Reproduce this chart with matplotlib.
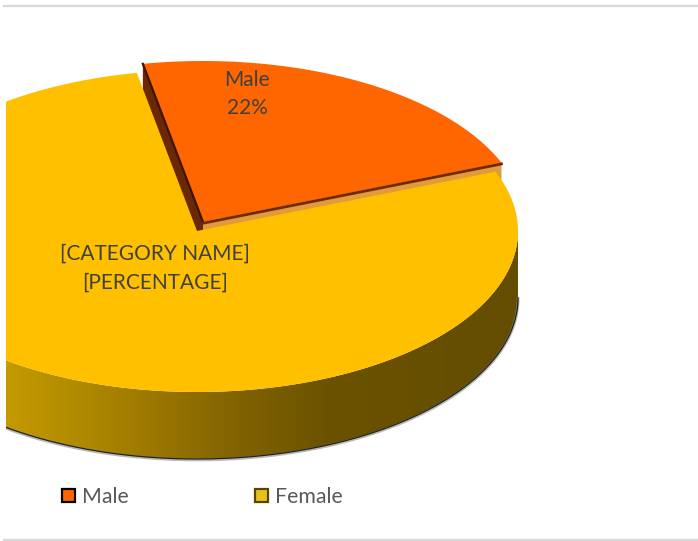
import numpy as np
import matplotlib
matplotlib.use("Agg")
import matplotlib.pyplot as plt
from matplotlib.patches import Polygon, Rectangle
from matplotlib.lines import Line2D

# ---- data -------------------------------------------------------------
categories = ["Male", "Female"]
values = [22, 78]
top_colors = ["#FF6600", "#FFC000"]
data_labels = [f"{categories[0]}\n{values[0]}%", "[CATEGORY NAME]\n[PERCENTAGE]"]

# ---- geometry of the 3-D pie (pixel space) ------------------------------
W, H = 698, 541
CX, CY = 197, 231          # centre of the top face
A, B = 321, 161            # semi-axes of the top ellipse
DEPTH = 67                 # wall thickness
START = -10.8              # first slice edge, degrees clockwise from 12 o'clock
EXPLODE = [(6, -9), (0, 0)]
LEFT = 6                   # plot area is cut here
FONT = ["Lato", "DejaVu Sans"]

fig = plt.figure(figsize=(W / 100, H / 100), dpi=100)
ax = fig.add_axes([0, 0, 1, 1])

clip = Rectangle((LEFT, 0), W - LEFT, H, transform=ax.transData)


def rim(cx, cy, t0, t1, n=240):
    t = np.radians(np.linspace(t0, t1, n))
    return np.column_stack([cx + A * np.sin(t), cy - B * np.cos(t)])


def pt(cx, cy, t):
    r = np.radians(t)
    return np.array([cx + A * np.sin(r), cy - B * np.cos(r)])


def add_patch(p):
    ax.add_patch(p)
    p.set_clip_path(clip)
    return p


def add_line(xs, ys, **kw):
    ln = Line2D(xs, ys, **kw)
    ax.add_line(ln)
    ln.set_clip_path(clip)
    return ln


spans = [360.0 * v / sum(values) for v in values]
edges = [START]
for s in spans:
    edges.append(edges[-1] + s)

down = np.array([0, DEPTH])

# ---- Male slice (exploded) ---------------------------------------------
mx, my = CX + EXPLODE[0][0], CY + EXPLODE[0][1]
apex = np.array([mx, my])
p0 = pt(mx, my, edges[0])
p1 = pt(mx, my, edges[1])

# radial side faces
add_patch(Polygon([apex, p0, p0 + down, apex + down], closed=True,
                  facecolor="#6a2805", edgecolor="none", zorder=1))
add_patch(Polygon([apex, p1, p1 + down, apex + down], closed=True,
                  facecolor="#e39a3a", edgecolor="none", zorder=1))

top_m = np.vstack([apex, rim(mx, my, edges[0], edges[1])])
add_patch(Polygon(top_m, closed=True, facecolor=top_colors[0], edgecolor="none", zorder=2))
add_line([apex[0], p0[0]], [apex[1], p0[1]], color="#3d1500", lw=1.6, zorder=2.5)
add_line([apex[0], p1[0]], [apex[1] + 1.2, p1[1] + 1.2], color="#6e2a00", lw=2.0, zorder=2.5)

# ---- Female slice ------------------------------------------------------
fx, fy = CX + EXPLODE[1][0], CY + EXPLODE[1][1]
wall_top = rim(fx, fy, 90, 270, 400)
wall_bot = wall_top + down
wall_poly = Polygon(np.vstack([wall_top, wall_bot[::-1]]), closed=True,
                    facecolor="none", edgecolor="none", transform=ax.transData)

# horizontal shading of the outer wall
stops_x = [0, 100, 170, 240, 330, 520]
stops_c = np.array([(198, 156, 0), (170, 133, 0), (150, 115, 0),
                    (128, 98, 0), (107, 82, 0), (100, 77, 0)]) / 255.0
gx = np.arange(LEFT, fx + A + 2, 1.0)
grad = np.stack([np.interp(gx, stops_x, stops_c[:, k]) for k in range(3)], axis=-1)[None, :, :]
y_lo, y_hi = wall_top[:, 1].min() - 2, wall_bot[:, 1].max() + 2
im = ax.imshow(grad, extent=(gx[0], gx[-1], y_hi, y_lo), aspect="auto",
               interpolation="bilinear", zorder=3)
im.set_clip_path(wall_poly)

add_line(wall_bot[:, 0], wall_bot[:, 1] + 0.8, color="#8a8a8a", lw=2.2, alpha=0.6, zorder=3.4)
add_line(wall_bot[:, 0], wall_bot[:, 1], color="#222222", lw=0.9, zorder=3.5)

top_f = np.vstack([[fx, fy], rim(fx, fy, edges[1], edges[2])])
add_patch(Polygon(top_f, closed=True, facecolor=top_colors[1], edgecolor="none", zorder=4))

# ---- data labels -------------------------------------------------------
label_pos = [(247, [86, 114]), (155, [260, 289])]
for text, (lx, ys) in zip(data_labels, label_pos):
    for line, ly in zip(text.split("\n"), ys):
        ax.text(lx, ly, line, ha="center", va="baseline", fontsize=15,
                color="#404040", family=FONT, zorder=6)

# ---- legend ------------------------------------------------------------
legend_x = [61, 254]
legend_edge = ["#000000", "#5a4500"]
legend_face = ["#FF6600", "#E6C21E"]
for name, x0, fc, ec in zip(categories, legend_x, legend_face, legend_edge):
    ax.add_patch(Rectangle((x0 + 1, 489), 13, 13, facecolor=fc, edgecolor=ec,
                           lw=1.6, zorder=6))
    ax.text(x0 + 21, 503, name, ha="left", va="baseline", fontsize=15.3,
            color="#595959", family=FONT, zorder=6)

# ---- frame lines -------------------------------------------------------
ax.plot([4, W], [5.5, 5.5], color="#d9d9d9", lw=1.6, zorder=0)
ax.plot([4, W], [540, 540], color="#d9d9d9", lw=1.6, zorder=0)

ax.set_xlim(0, W)
ax.set_ylim(H, 0)
ax.axis("off")

fig.savefig("out.png", dpi=100, facecolor="white")
